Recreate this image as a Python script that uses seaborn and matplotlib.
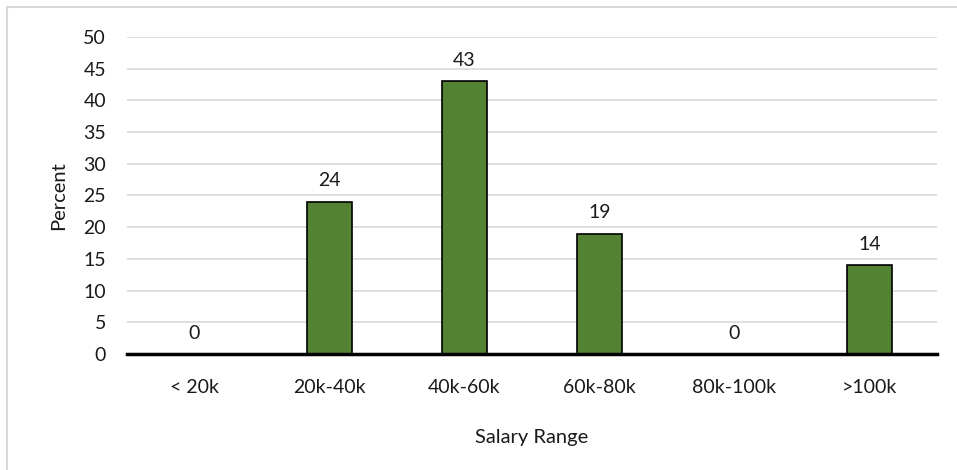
import matplotlib.pyplot as plt
import matplotlib.patches as mpatches
import pandas as pd
import seaborn as sns

sns.set_theme(style="white")
plt.rcParams['font.family'] = ['Lato', 'DejaVu Sans']

salary_ranges = ["< 20k", "20k-40k", "40k-60k", "60k-80k", "80k-100k", ">100k"]
percents = [0, 24, 43, 19, 0, 14]

bar_color = "#548235"
grid_color = "#d9d9d9"
text_color = "#1a1a1a"

df = pd.DataFrame({"salary": salary_ranges, "percent": percents})

fig = plt.figure(figsize=(9.57, 4.70), dpi=100)
ax = fig.add_axes([0.1327, 0.2468, 0.8463, 0.6745])

sns.barplot(data=df, x="salary", y="percent", color=bar_color, width=0.33,
            edgecolor="black", linewidth=1.2, saturation=1, ax=ax, zorder=3)

ax.set_ylim(0, 50)
ax.set_xlim(-0.5, len(salary_ranges) - 0.5)
ax.set_yticks(range(0, 51, 5))
ax.yaxis.grid(True, color=grid_color, linewidth=1.2, zorder=0)
ax.set_axisbelow(True)
for side in ["top", "right", "left"]:
    ax.spines[side].set_visible(False)
ax.spines["bottom"].set_color("black")
ax.spines["bottom"].set_linewidth(2.5)
ax.spines["bottom"].set_zorder(4)
ax.tick_params(axis="both", length=0, labelsize=14, colors=text_color)
ax.tick_params(axis="x", pad=18)
ax.tick_params(axis="y", pad=15)

for i, v in enumerate(percents):
    ax.annotate(str(v), (i, v), xytext=(0, 9), textcoords="offset points",
                ha="center", va="bottom", fontsize=14, color=text_color)

ax.set_xlabel("Salary Range", fontsize=14.5, color=text_color, labelpad=24)
ax.set_ylabel("Percent", fontsize=14.5, color=text_color, labelpad=12)

# light frame around the chart, like the Excel chart area
fig.patches.append(mpatches.Rectangle((7 / 957, -0.05), 1.2, 1 - 7 / 470 + 0.05,
                                      transform=fig.transFigure, fill=False,
                                      edgecolor="#d9d9d9", linewidth=1.5))

fig.savefig("out.png", dpi=100)
